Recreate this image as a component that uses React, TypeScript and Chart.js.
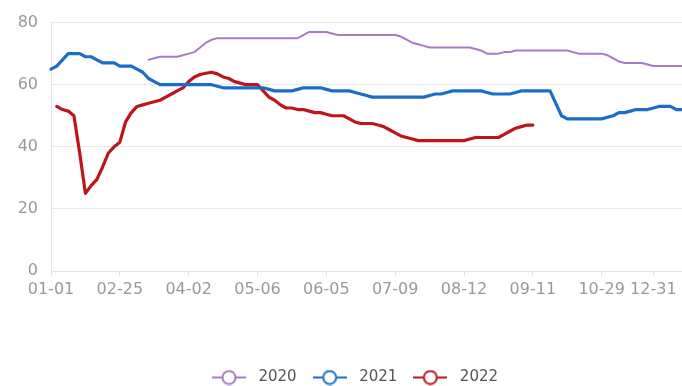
import React, { useEffect, useRef } from 'react';
import { Chart, registerables } from 'chart.js';

Chart.register(...registerables);

// Category axis (dates MM-DD)
const categories = [
  '01-01', '01-05', '01-10', '01-14', '01-19', '01-24', '01-28', '02-02', '02-06', '02-11', '02-16', '02-20', '02-25',
  '02-28', '03-03', '03-06', '03-09', '03-12', '03-15', '03-18', '03-21', '03-24', '03-27', '03-30', '04-02',
  '04-05', '04-08', '04-11', '04-14', '04-17', '04-20', '04-23', '04-26', '04-29', '05-01', '05-03', '05-06',
  '05-08', '05-11', '05-13', '05-16', '05-18', '05-21', '05-23', '05-26', '05-28', '05-31', '06-02', '06-05',
  '06-08', '06-11', '06-14', '06-17', '06-20', '06-23', '06-26', '06-29', '07-02', '07-04', '07-06', '07-09',
  '07-12', '07-15', '07-18', '07-21', '07-24', '07-27', '07-30', '08-02', '08-05', '08-07', '08-09', '08-12',
  '08-14', '08-17', '08-19', '08-22', '08-24', '08-27', '08-29', '09-01', '09-03', '09-06', '09-08', '09-11',
  '09-15', '09-19', '09-23', '09-27', '10-01', '10-05', '10-09', '10-13', '10-17', '10-21', '10-25', '10-29',
  '11-05', '11-12', '11-19', '11-26', '12-03', '12-10', '12-17', '12-24', '12-31',
  '01-03', '01-08', '01-13', '01-17', '01-22',
];

// Labels shown on the x axis
const tickLabels = ['01-01', '02-25', '04-02', '05-06', '06-05', '07-09', '08-12', '09-11', '10-29', '12-31'];

// Y axis
const yMin = 0;
const yMax = 80;
const yStep = 20;

const seriesNames = ['2020', '2021', '2022'];

const series2020 = [
  null, null, null, null, null, null, null, null, null, null,
  null, null, null, null, null, null, null, 68, 68.5, 69,
  69, 69, 69, 69.5, 70, 70.5, 72, 73.5, 74.5, 75,
  75, 75, 75, 75, 75, 75, 75, 75, 75, 75,
  75, 75, 75, 75, 76, 77, 77, 77, 77, 76.5,
  76, 76, 76, 76, 76, 76, 76, 76, 76, 76,
  76, 75.5, 74.5, 73.5, 73, 72.5, 72, 72, 72, 72,
  72, 72, 72, 72, 71.5, 71, 70, 70, 70, 70.5,
  70.5, 71, 71, 71, 71, 71, 71, 71, 71, 71,
  71, 70.5, 70, 70, 70, 70, 70, 69.5, 68.5, 67.5,
  67, 67, 67, 67, 66.5, 66, 66, 66, 66, 66,
  66,
];

const series2021 = [
  65, 66, 68, 70, 70, 70, 69, 69, 68, 67,
  67, 67, 66, 66, 66, 65, 64, 62, 61, 60,
  60, 60, 60, 60, 60, 60, 60, 60, 60, 59.5,
  59, 59, 59, 59, 59, 59, 59, 59, 58.5, 58,
  58, 58, 58, 58.5, 59, 59, 59, 59, 58.5, 58,
  58, 58, 58, 57.5, 57, 56.5, 56, 56, 56, 56,
  56, 56, 56, 56, 56, 56, 56.5, 57, 57, 57.5,
  58, 58, 58, 58, 58, 58, 57.5, 57, 57, 57,
  57, 57.5, 58, 58, 58, 58, 58, 58, 54, 50,
  49, 49, 49, 49, 49, 49, 49, 49.5, 50, 51,
  51, 51.5, 52, 52, 52, 52.5, 53, 53, 53, 52,
  52,
];

const series2022 = [
  null, 53, 52, 51.5, 50, 38, 25, 27.5, 29.5, 33.5,
  38, 40, 41.5, 48, 51, 53, 53.5, 54, 54.5, 55,
  56, 57, 58, 59, 61, 62.5, 63.3, 63.7, 64, 63.5,
  62.5, 62, 61, 60.5, 60, 60, 60, 58, 56, 55,
  53.5, 52.5, 52.5, 52, 52, 51.5, 51, 51, 50.5, 50,
  50, 50, 49, 48, 47.5, 47.5, 47.5, 47, 46.5, 45.5,
  44.5, 43.5, 43, 42.5, 42, 42, 42, 42, 42, 42,
  42, 42, 42, 42.5, 43, 43, 43, 43, 43, 44,
  45, 46, 46.5, 47, 47, null, null, null, null, null,
  null, null, null, null, null, null, null, null, null, null,
  null, null, null, null, null, null, null, null, null, null,
  null,
];

const seriesData = [series2020, series2021, series2022];
const seriesColors = ['#a77cc4', '#1b6ec8', '#c0141d'];
const seriesWidths = [2, 3.2, 3.2];

const FONT = "'DejaVu Sans', 'Noto Sans', sans-serif";

function makeIcon(color: string): HTMLCanvasElement {
  const c = document.createElement('canvas');
  c.width = 34;
  c.height = 16;
  const ctx = c.getContext('2d')!;
  ctx.strokeStyle = color;
  ctx.lineWidth = 2;
  ctx.beginPath();
  ctx.moveTo(0, 8);
  ctx.lineTo(34, 8);
  ctx.stroke();
  ctx.beginPath();
  ctx.arc(17, 8, 6.5, 0, Math.PI * 2);
  ctx.fillStyle = '#ffffff';
  ctx.fill();
  ctx.stroke();
  return c;
}

export default function App() {
  const canvasRef = useRef<HTMLCanvasElement | null>(null);

  useEffect(() => {
    const canvas = canvasRef.current;
    if (!canvas) return;
    const icons = seriesColors.map((c) => makeIcon(c));

    const chart = new Chart(canvas, {
      type: 'line',
      data: {
        labels: categories,
        datasets: seriesNames.map((name, i) => ({
          label: name,
          data: seriesData[i] as any,
          borderColor: seriesColors[i],
          backgroundColor: seriesColors[i],
          borderWidth: seriesWidths[i],
          pointRadius: 0,
          pointHoverRadius: 0,
          tension: 0,
          fill: false,
          borderJoinStyle: 'round' as const,
          borderCapStyle: 'round' as const,
          yAxisID: 'y',
        })),
      },
      options: {
        animation: false,
        responsive: true,
        maintainAspectRatio: false,
        layout: { padding: { top: 19, left: 0, right: 0, bottom: 0 } },
        plugins: {
          tooltip: { enabled: false },
          legend: {
            position: 'bottom',
            labels: {
              usePointStyle: true,
              pointStyleWidth: 44,
              padding: 11,
              color: '#555555',
              font: { size: 15, family: FONT },
              generateLabels: (ch: any) =>
                ch.data.datasets.map((ds: any, i: number) => ({
                  text: ds.label,
                  pointStyle: icons[i],
                  fillStyle: ds.borderColor,
                  strokeStyle: ds.borderColor,
                  lineWidth: 0,
                  hidden: false,
                  datasetIndex: i,
                  fontColor: '#555555',
                })),
            },
          },
        },
        scales: {
          x: {
            type: 'category',
            grid: {
              display: true,
              drawOnChartArea: false,
              drawTicks: true,
              tickLength: 5,
              color: '#e3e3e3',
              tickColor: (ctx: any) =>
                tickLabels.includes(categories[ctx.index]) ? '#e3e3e3' : 'rgba(0,0,0,0)',
            },
            border: { display: true, color: '#e3e3e3' },
            ticks: {
              autoSkip: false,
              maxRotation: 0,
              minRotation: 0,
              padding: 4,
              color: '#999999',
              font: { size: 16, family: FONT },
              callback: (_v: any, index: number) =>
                tickLabels.includes(categories[index]) ? categories[index] : '',
            },
            afterFit: (scale: any) => {
              scale.height = 88;
            },
          },
          y: {
            position: 'left',
            min: yMin,
            max: yMax,
            ticks: {
              stepSize: yStep,
              padding: 13,
              color: '#999999',
              font: { size: 16, family: FONT },
            },
            grid: { color: '#e8e8e8', drawTicks: false },
            border: { display: true, color: '#e3e3e3' },
            afterFit: (scale: any) => {
              scale.width = 51;
            },
          },
          yRight: {
            type: 'linear',
            position: 'right',
            display: true,
            min: yMin,
            max: yMax,
            grid: { display: false, drawOnChartArea: false, drawTicks: false },
            border: { display: false },
            ticks: { display: false },
            afterFit: (scale: any) => {
              scale.width = 23;
            },
          },
        },
      },
    });

    return () => chart.destroy();
  }, []);

  return (
    <div style={{ position: 'fixed', left: 0, top: 0, width: 682, height: 386, overflow: 'hidden', background: '#fff' }}>
      <div style={{ position: 'relative', width: 705, height: 395 }}>
        <canvas ref={canvasRef} style={{ display: 'block' }} />
      </div>
    </div>
  );
}
